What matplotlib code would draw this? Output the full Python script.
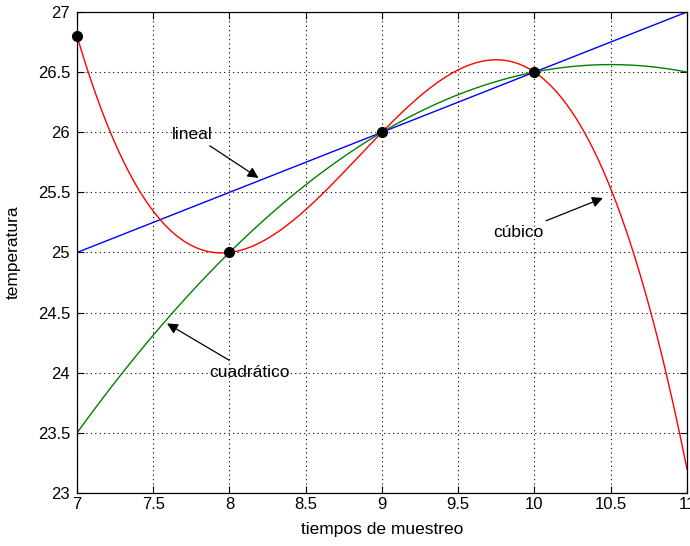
import matplotlib
matplotlib.use("Agg")
import matplotlib.pyplot as plt
import numpy as np

plt.rcParams['font.family'] = ['Liberation Sans', 'DejaVu Sans']

# sampled temperatures
t_muestras = [7, 8, 9, 10]
temp_muestras = [26.8, 25.0, 26.0, 26.5]

x_ticks = [7, 7.5, 8, 8.5, 9, 9.5, 10, 10.5, 11]
x_labels = ["7", "7.5", "8", "8.5", "9", "9.5", "10", "10.5", "11"]
y_ticks = [23, 23.5, 24, 24.5, 25, 25.5, 26, 26.5, 27]
y_labels = ["23", "23.5", "24", "24.5", "25", "25.5", "26", "26.5", "27"]

# interpolating polynomials of increasing degree (last 2, 3 and all 4 points)
p_lin = np.polyfit(t_muestras[2:], temp_muestras[2:], 1)
p_cuad = np.polyfit(t_muestras[1:], temp_muestras[1:], 2)
p_cub = np.polyfit(t_muestras, temp_muestras, 3)
t = np.linspace(7, 11, 400)

fig = plt.figure(figsize=(6.9, 5.46), dpi=100)
ax = fig.add_axes([0.1116, 0.0971, 0.884, 0.881])

ax.plot(t, np.polyval(p_lin, t), color=(0, 0, 1), lw=1)
ax.plot(t, np.polyval(p_cuad, t), color=(0, 0.5, 0), lw=1)
ax.plot(t, np.polyval(p_cub, t), color=(1, 0, 0), lw=1)
ax.plot(t_muestras, temp_muestras, 'o', color='k', markersize=7, clip_on=False, zorder=5)

ax.set_xlim(7, 11)
ax.set_ylim(23, 27)
ax.set_xticks(x_ticks)
ax.set_xticklabels(x_labels)
ax.set_yticks(y_ticks)
ax.set_yticklabels(y_labels)
ax.tick_params(direction='in', top=True, right=True, labelsize=12, length=5)
ax.tick_params(axis='x', pad=3)
ax.tick_params(axis='y', pad=5)
ax.grid(True, color='k', linestyle=(0, (1, 3)), linewidth=0.8)
for s in ax.spines.values():
    s.set_linewidth(0.9)

ax.set_xlabel("tiempos de muestreo", fontsize=12.5, va='top')
ax.set_ylabel("temperatura", fontsize=12.5)
ax.xaxis.set_label_coords(0.5, -0.06)
ax.yaxis.set_label_coords(-0.093, 0.5)

arrow = dict(arrowstyle='-|>', color='k', lw=0.9, mutation_scale=16, shrinkA=2, shrinkB=0)
ax.annotate("lineal", xy=(8.19, 25.62), xytext=(7.754, 25.985), fontsize=12.5,
            ha='center', va='center', arrowprops=arrow)
ax.annotate("cuadrático", xy=(7.59, 24.41), xytext=(8.128, 24.006), fontsize=12.5,
            ha='center', va='center', arrowprops=arrow)
ax.annotate("cúbico", xy=(10.449, 25.453), xytext=(9.892, 25.17), fontsize=12.5,
            ha='center', va='center', arrowprops=arrow)

fig.savefig("out.png", dpi=100)
